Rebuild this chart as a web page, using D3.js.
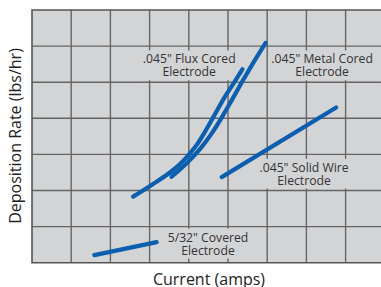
<!DOCTYPE html>
<html>
<head>
<meta charset="utf-8">
<script src="https://cdn.jsdelivr.net/npm/d3@7"></script>
<style>
  html, body { margin: 0; padding: 0; background: #fff; }
  svg { display: block; font-family: "Open Sans", "Noto Sans", sans-serif; }
</style>
</head>
<body>
<div id="chart"></div>
<script>
// chart values (grid units: 9 columns x 7 rows)
const xTitle = "Current (amps)";
const yTitle = "Deposition Rate (lbs/hr)";
const seriesNames = ["flux", "metal", "solid", "covered"];

const fluxPoints = [[2.58, 1.83], [3.09, 2.18], [3.57, 2.54], [3.90, 2.87], [4.18, 3.23],
                    [4.41, 3.62], [4.64, 4.06], [4.90, 4.56], [5.15, 4.98], [5.37, 5.36]];
const metalPoints = [[3.56, 2.38], [3.98, 2.79], [4.31, 3.18], [4.59, 3.59], [4.85, 4.04],
                     [5.10, 4.51], [5.36, 5.01], [5.64, 5.53], [5.96, 6.09]];
const solidPoints = [[4.84, 2.37], [7.76, 4.30]];
const coveredPoints = [[1.59, 0.21], [3.18, 0.57]];

const labelText = {
  flux: ['.045" Flux Cored', "Electrode"],
  metal: ['.045" Metal Cored', "Electrode"],
  solid: ['.045" Solid Wire', "Electrode"],
  covered: ['5/32" Covered', "Electrode"]
};
// label anchors (centre of text, first baseline) in grid units
const labelAt = {
  flux: [4.01, 5.52],
  metal: [7.40, 5.52],
  solid: [6.94, 2.52],
  covered: [4.49, 0.58]
};

const width = 381, height = 287;
const margin = {top: 10, left: 32, bottom: 24.3};
const colW = 39.2;
const plotBg = "#d3d4d6";
const gridColor = "#646464";
const blue = "#0b5fae";

let svg = d3.select("#chart")
    .append("svg")
    .attr("width", width)
    .attr("height", height);

let x = d3.scaleLinear()
    .domain([0, 9])
    .range([margin.left, margin.left + 9 * colW]);
let y = d3.scaleLinear()
    .domain([0, 7])
    .range([height - margin.bottom, margin.top]);

// plot background
svg.append("rect")
    .attr("x", x(0))
    .attr("y", y(7))
    .attr("width", x(9) - x(0))
    .attr("height", y(0) - y(7))
    .attr("fill", plotBg);

// grid
let grid = svg.append("g");
grid.selectAll(".vline")
    .data(d3.range(1, 9))
    .enter()
    .append("line")
    .attr("x1", d => x(d)).attr("x2", d => x(d))
    .attr("y1", y(0)).attr("y2", y(7))
    .attr("stroke", gridColor)
    .attr("stroke-width", 1.4);
grid.selectAll(".hline")
    .data(d3.range(1, 7))
    .enter()
    .append("line")
    .attr("x1", x(0)).attr("x2", x(9))
    .attr("y1", d => y(d)).attr("y2", d => y(d))
    .attr("stroke", gridColor)
    .attr("stroke-width", 1.4);

// frame: left, top, bottom
svg.append("path")
    .attr("d", `M${x(9)},${y(7)}H${x(0)}V${y(0)}H${x(9)}`)
    .attr("fill", "none")
    .attr("stroke", "#555")
    .attr("stroke-width", 1.6);

// labels with knock-out boxes
let labels = svg.append("g");
seriesNames.forEach(function(name) {
  let g = labels.append("g");
  let box = g.append("rect").attr("fill", plotBg);
  let texts = labelText[name].map(function(line, i) {
    return g.append("text")
        .attr("x", x(labelAt[name][0]))
        .attr("y", y(labelAt[name][1]) + i * 12.8)
        .attr("text-anchor", "middle")
        .attr("fill", "#333")
        .style("font-size", "12.2px")
        .text(line);
  });
  let b0 = texts[0].node().getBBox(), b1 = texts[1].node().getBBox();
  let x0 = Math.min(b0.x, b1.x), x1 = Math.max(b0.x + b0.width, b1.x + b1.width);
  box.attr("x", x0 - 3)
      .attr("y", b0.y)
      .attr("width", x1 - x0 + 6)
      .attr("height", b1.y + b1.height - b0.y);
});

// series lines
const seriesPoints = {flux: fluxPoints, metal: metalPoints, solid: solidPoints, covered: coveredPoints};
let line = d3.line()
    .x(d => x(d[0]))
    .y(d => y(d[1]))
    .curve(d3.curveCatmullRom);

svg.append("g")
    .selectAll("path")
    .data(seriesNames)
    .enter()
    .append("path")
    .attr("d", d => line(seriesPoints[d]))
    .attr("fill", "none")
    .attr("stroke", blue)
    .attr("stroke-width", 4.2)
    .attr("stroke-linecap", "round");

// axis titles
svg.append("text")
    .attr("x", 209)
    .attr("y", 284.5)
    .attr("text-anchor", "middle")
    .attr("fill", "#222")
    .style("font-size", "16px")
    .text(xTitle);

svg.append("text")
    .attr("transform", `translate(${21}, ${136})rotate(-90)`)
    .attr("text-anchor", "middle")
    .attr("fill", "#222")
    .style("font-size", "16px")
    .text(yTitle);
</script>
</body>
</html>
